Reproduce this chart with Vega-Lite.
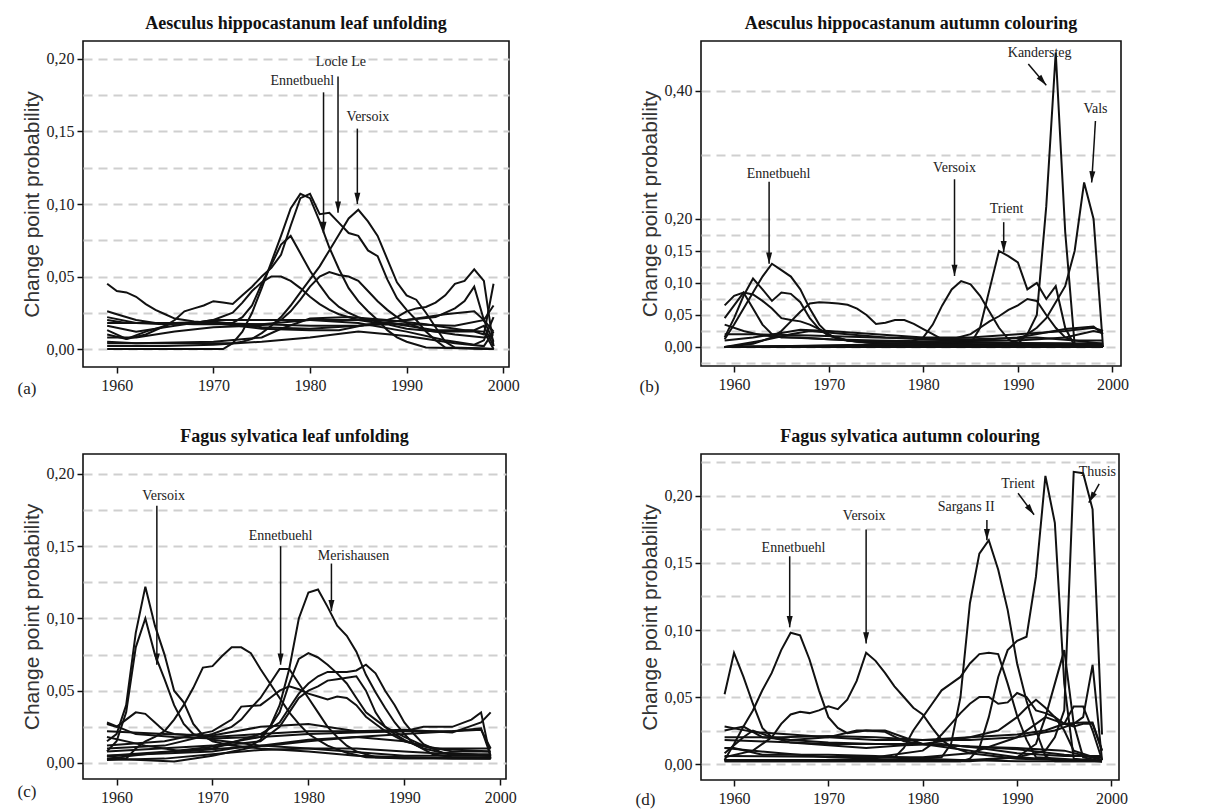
{
  "$schema": "https://vega.github.io/schema/vega-lite/v6.json",
  "background": "white",
  "padding": {"left": 16, "top": 14, "right": 5, "bottom": 5},
  "config": {
    "view": {"stroke": "#111", "strokeWidth": 1.6},
    "font": "Liberation Serif"
  },
  "datasets": {
    "la": [
      {"s":"a1","x":1959,"y":0.045},{"s":"a1","x":1960,"y":0.040},{"s":"a1","x":1961,"y":0.039},{"s":"a1","x":1962,"y":0.036},{"s":"a1","x":1963,"y":0.031},{"s":"a1","x":1964,"y":0.027},{"s":"a1","x":1965,"y":0.024},{"s":"a1","x":1966,"y":0.021},{"s":"a1","x":1968,"y":0.019},{"s":"a1","x":1970,"y":0.018},{"s":"a1","x":1975,"y":0.017},{"s":"a1","x":1980,"y":0.016},{"s":"a1","x":1985,"y":0.016},{"s":"a1","x":1988,"y":0.017},{"s":"a1","x":1990,"y":0.014},{"s":"a1","x":1993,"y":0.012},{"s":"a1","x":1997,"y":0.012},{"s":"a1","x":1998,"y":0.010},{"s":"a1","x":1999,"y":0.045},
      {"s":"a2","x":1959,"y":0},{"s":"a2","x":1971,"y":0},{"s":"a2","x":1972,"y":0.004},{"s":"a2","x":1973,"y":0.012},{"s":"a2","x":1974,"y":0.025},{"s":"a2","x":1975,"y":0.042},{"s":"a2","x":1976,"y":0.06},{"s":"a2","x":1977,"y":0.078},{"s":"a2","x":1978,"y":0.097},{"s":"a2","x":1979,"y":0.107},{"s":"a2","x":1980,"y":0.104},{"s":"a2","x":1981,"y":0.088},{"s":"a2","x":1982,"y":0.07},{"s":"a2","x":1983,"y":0.055},{"s":"a2","x":1984,"y":0.042},{"s":"a2","x":1985,"y":0.033},{"s":"a2","x":1986,"y":0.026},{"s":"a2","x":1987,"y":0.02},{"s":"a2","x":1988,"y":0.013},{"s":"a2","x":1989,"y":0.008},{"s":"a2","x":1990,"y":0.005},{"s":"a2","x":1992,"y":0.001},{"s":"a2","x":1999,"y":0},
      {"s":"a3","x":1959,"y":0.01},{"s":"a3","x":1961,"y":0.007},{"s":"a3","x":1963,"y":0.01},{"s":"a3","x":1965,"y":0.016},{"s":"a3","x":1966,"y":0.02},{"s":"a3","x":1967,"y":0.026},{"s":"a3","x":1968,"y":0.028},{"s":"a3","x":1969,"y":0.03},{"s":"a3","x":1970,"y":0.033},{"s":"a3","x":1971,"y":0.032},{"s":"a3","x":1972,"y":0.031},{"s":"a3","x":1973,"y":0.037},{"s":"a3","x":1974,"y":0.043},{"s":"a3","x":1975,"y":0.05},{"s":"a3","x":1976,"y":0.056},{"s":"a3","x":1977,"y":0.065},{"s":"a3","x":1978,"y":0.085},{"s":"a3","x":1979,"y":0.104},{"s":"a3","x":1980,"y":0.107},{"s":"a3","x":1981,"y":0.093},{"s":"a3","x":1982,"y":0.094},{"s":"a3","x":1983,"y":0.087},{"s":"a3","x":1984,"y":0.08},{"s":"a3","x":1985,"y":0.078},{"s":"a3","x":1986,"y":0.068},{"s":"a3","x":1987,"y":0.064},{"s":"a3","x":1988,"y":0.048},{"s":"a3","x":1989,"y":0.035},{"s":"a3","x":1990,"y":0.027},{"s":"a3","x":1991,"y":0.02},{"s":"a3","x":1992,"y":0.012},{"s":"a3","x":1993,"y":0.006},{"s":"a3","x":1994,"y":0.001},{"s":"a3","x":1999,"y":0},
      {"s":"a4","x":1959,"y":0.004},{"s":"a4","x":1972,"y":0.004},{"s":"a4","x":1973,"y":0.005},{"s":"a4","x":1974,"y":0.007},{"s":"a4","x":1975,"y":0.011},{"s":"a4","x":1976,"y":0.016},{"s":"a4","x":1977,"y":0.022},{"s":"a4","x":1978,"y":0.03},{"s":"a4","x":1979,"y":0.039},{"s":"a4","x":1980,"y":0.048},{"s":"a4","x":1981,"y":0.057},{"s":"a4","x":1982,"y":0.068},{"s":"a4","x":1983,"y":0.079},{"s":"a4","x":1984,"y":0.09},{"s":"a4","x":1985,"y":0.096},{"s":"a4","x":1986,"y":0.088},{"s":"a4","x":1987,"y":0.078},{"s":"a4","x":1988,"y":0.062},{"s":"a4","x":1989,"y":0.046},{"s":"a4","x":1990,"y":0.037},{"s":"a4","x":1991,"y":0.034},{"s":"a4","x":1992,"y":0.025},{"s":"a4","x":1993,"y":0.015},{"s":"a4","x":1994,"y":0.005},{"s":"a4","x":1995,"y":0.001},{"s":"a4","x":1999,"y":0},
      {"s":"a5","x":1959,"y":0.018},{"s":"a5","x":1972,"y":0.018},{"s":"a5","x":1973,"y":0.022},{"s":"a5","x":1974,"y":0.03},{"s":"a5","x":1975,"y":0.045},{"s":"a5","x":1976,"y":0.058},{"s":"a5","x":1977,"y":0.072},{"s":"a5","x":1978,"y":0.078},{"s":"a5","x":1979,"y":0.066},{"s":"a5","x":1980,"y":0.054},{"s":"a5","x":1981,"y":0.044},{"s":"a5","x":1982,"y":0.035},{"s":"a5","x":1983,"y":0.029},{"s":"a5","x":1984,"y":0.025},{"s":"a5","x":1985,"y":0.022},{"s":"a5","x":1986,"y":0.02},{"s":"a5","x":1988,"y":0.018},{"s":"a5","x":1990,"y":0.016},{"s":"a5","x":1993,"y":0.013},{"s":"a5","x":1997,"y":0.013},{"s":"a5","x":1998,"y":0.016},{"s":"a5","x":1999,"y":0.002},
      {"s":"a6","x":1959,"y":0.022},{"s":"a6","x":1962,"y":0.018},{"s":"a6","x":1965,"y":0.017},{"s":"a6","x":1968,"y":0.018},{"s":"a6","x":1970,"y":0.02},{"s":"a6","x":1972,"y":0.025},{"s":"a6","x":1973,"y":0.032},{"s":"a6","x":1974,"y":0.04},{"s":"a6","x":1975,"y":0.046},{"s":"a6","x":1976,"y":0.05},{"s":"a6","x":1977,"y":0.05},{"s":"a6","x":1978,"y":0.047},{"s":"a6","x":1979,"y":0.042},{"s":"a6","x":1980,"y":0.036},{"s":"a6","x":1981,"y":0.031},{"s":"a6","x":1982,"y":0.027},{"s":"a6","x":1983,"y":0.024},{"s":"a6","x":1985,"y":0.02},{"s":"a6","x":1987,"y":0.018},{"s":"a6","x":1990,"y":0.017},{"s":"a6","x":1995,"y":0.016},{"s":"a6","x":1998,"y":0.02},{"s":"a6","x":1999,"y":0.012},
      {"s":"a7","x":1959,"y":0.008},{"s":"a7","x":1962,"y":0.008},{"s":"a7","x":1966,"y":0.012},{"s":"a7","x":1970,"y":0.015},{"s":"a7","x":1974,"y":0.016},{"s":"a7","x":1976,"y":0.017},{"s":"a7","x":1977,"y":0.02},{"s":"a7","x":1978,"y":0.026},{"s":"a7","x":1979,"y":0.034},{"s":"a7","x":1980,"y":0.043},{"s":"a7","x":1981,"y":0.05},{"s":"a7","x":1982,"y":0.053},{"s":"a7","x":1983,"y":0.051},{"s":"a7","x":1984,"y":0.05},{"s":"a7","x":1985,"y":0.047},{"s":"a7","x":1986,"y":0.04},{"s":"a7","x":1987,"y":0.033},{"s":"a7","x":1988,"y":0.027},{"s":"a7","x":1989,"y":0.022},{"s":"a7","x":1990,"y":0.018},{"s":"a7","x":1992,"y":0.013},{"s":"a7","x":1995,"y":0.01},{"s":"a7","x":1998,"y":0.008},{"s":"a7","x":1999,"y":0.01},
      {"s":"a8","x":1959,"y":0.026},{"s":"a8","x":1960,"y":0.024},{"s":"a8","x":1962,"y":0.02},{"s":"a8","x":1964,"y":0.018},{"s":"a8","x":1968,"y":0.017},{"s":"a8","x":1975,"y":0.017},{"s":"a8","x":1980,"y":0.02},{"s":"a8","x":1985,"y":0.02},{"s":"a8","x":1988,"y":0.02},{"s":"a8","x":1989,"y":0.022},{"s":"a8","x":1990,"y":0.026},{"s":"a8","x":1991,"y":0.028},{"s":"a8","x":1992,"y":0.029},{"s":"a8","x":1993,"y":0.032},{"s":"a8","x":1994,"y":0.037},{"s":"a8","x":1995,"y":0.045},{"s":"a8","x":1996,"y":0.047},{"s":"a8","x":1997,"y":0.055},{"s":"a8","x":1998,"y":0.047},{"s":"a8","x":1999,"y":0.002},
      {"s":"a9","x":1959,"y":0.013},{"s":"a9","x":1961,"y":0.007},{"s":"a9","x":1963,"y":0.012},{"s":"a9","x":1966,"y":0.018},{"s":"a9","x":1970,"y":0.019},{"s":"a9","x":1975,"y":0.015},{"s":"a9","x":1980,"y":0.014},{"s":"a9","x":1985,"y":0.016},{"s":"a9","x":1990,"y":0.02},{"s":"a9","x":1993,"y":0.022},{"s":"a9","x":1995,"y":0.028},{"s":"a9","x":1996,"y":0.033},{"s":"a9","x":1997,"y":0.043},{"s":"a9","x":1998,"y":0.02},{"s":"a9","x":1999,"y":0.03},
      {"s":"a10","x":1959,"y":0.02},{"s":"a10","x":1961,"y":0.018},{"s":"a10","x":1970,"y":0.018},{"s":"a10","x":1975,"y":0.014},{"s":"a10","x":1980,"y":0.013},{"s":"a10","x":1983,"y":0.013},{"s":"a10","x":1986,"y":0.017},{"s":"a10","x":1990,"y":0.02},{"s":"a10","x":1994,"y":0.024},{"s":"a10","x":1997,"y":0.026},{"s":"a10","x":1998,"y":0.02},{"s":"a10","x":1999,"y":0.005},
      {"s":"a11","x":1959,"y":0.005},{"s":"a11","x":1962,"y":0.004},{"s":"a11","x":1970,"y":0.005},{"s":"a11","x":1975,"y":0.008},{"s":"a11","x":1977,"y":0.014},{"s":"a11","x":1980,"y":0.021},{"s":"a11","x":1984,"y":0.022},{"s":"a11","x":1988,"y":0.02},{"s":"a11","x":1992,"y":0.017},{"s":"a11","x":1996,"y":0.013},{"s":"a11","x":1998,"y":0.012},{"s":"a11","x":1999,"y":0},
      {"s":"a12","x":1959,"y":0.016},{"s":"a12","x":1962,"y":0.012},{"s":"a12","x":1966,"y":0.016},{"s":"a12","x":1970,"y":0.02},{"s":"a12","x":1975,"y":0.02},{"s":"a12","x":1980,"y":0.02},{"s":"a12","x":1985,"y":0.018},{"s":"a12","x":1990,"y":0.012},{"s":"a12","x":1994,"y":0.006},{"s":"a12","x":1997,"y":0.003},{"s":"a12","x":1998,"y":0.006},{"s":"a12","x":1999,"y":0.022},
      {"s":"a13","x":1959,"y":0.002},{"s":"a13","x":1965,"y":0.002},{"s":"a13","x":1970,"y":0.003},{"s":"a13","x":1975,"y":0.005},{"s":"a13","x":1980,"y":0.008},{"s":"a13","x":1985,"y":0.012},{"s":"a13","x":1990,"y":0.009},{"s":"a13","x":1995,"y":0.004},{"s":"a13","x":1998,"y":0.002},{"s":"a13","x":1999,"y":0.012}
    ],
    "lb": [
      {"s":"b1","x":1959,"y":0.012},{"s":"b1","x":1960,"y":0.035},{"s":"b1","x":1961,"y":0.06},{"s":"b1","x":1962,"y":0.085},{"s":"b1","x":1963,"y":0.11},{"s":"b1","x":1964,"y":0.13},{"s":"b1","x":1965,"y":0.12},{"s":"b1","x":1966,"y":0.11},{"s":"b1","x":1967,"y":0.09},{"s":"b1","x":1968,"y":0.06},{"s":"b1","x":1969,"y":0.035},{"s":"b1","x":1970,"y":0.02},{"s":"b1","x":1971,"y":0.012},{"s":"b1","x":1973,"y":0.008},{"s":"b1","x":1976,"y":0.006},{"s":"b1","x":1980,"y":0.005},{"s":"b1","x":1985,"y":0.004},{"s":"b1","x":1990,"y":0.003},{"s":"b1","x":1995,"y":0.002},{"s":"b1","x":1999,"y":0.002},
      {"s":"b2","x":1959,"y":0.015},{"s":"b2","x":1960,"y":0.045},{"s":"b2","x":1961,"y":0.08},{"s":"b2","x":1962,"y":0.107},{"s":"b2","x":1963,"y":0.09},{"s":"b2","x":1964,"y":0.072},{"s":"b2","x":1965,"y":0.085},{"s":"b2","x":1966,"y":0.083},{"s":"b2","x":1967,"y":0.07},{"s":"b2","x":1968,"y":0.045},{"s":"b2","x":1969,"y":0.028},{"s":"b2","x":1970,"y":0.018},{"s":"b2","x":1972,"y":0.01},{"s":"b2","x":1975,"y":0.006},{"s":"b2","x":1980,"y":0.004},{"s":"b2","x":1990,"y":0.003},{"s":"b2","x":1999,"y":0.002},
      {"s":"b3","x":1959,"y":0.065},{"s":"b3","x":1960,"y":0.08},{"s":"b3","x":1961,"y":0.085},{"s":"b3","x":1962,"y":0.082},{"s":"b3","x":1963,"y":0.072},{"s":"b3","x":1964,"y":0.06},{"s":"b3","x":1965,"y":0.045},{"s":"b3","x":1966,"y":0.042},{"s":"b3","x":1967,"y":0.04},{"s":"b3","x":1968,"y":0.035},{"s":"b3","x":1969,"y":0.028},{"s":"b3","x":1970,"y":0.018},{"s":"b3","x":1972,"y":0.01},{"s":"b3","x":1975,"y":0.006},{"s":"b3","x":1980,"y":0.005},{"s":"b3","x":1990,"y":0.004},{"s":"b3","x":1999,"y":0.005},
      {"s":"b4","x":1959,"y":0.045},{"s":"b4","x":1960,"y":0.065},{"s":"b4","x":1961,"y":0.085},{"s":"b4","x":1962,"y":0.06},{"s":"b4","x":1963,"y":0.035},{"s":"b4","x":1964,"y":0.02},{"s":"b4","x":1965,"y":0.015},{"s":"b4","x":1967,"y":0.015},{"s":"b4","x":1970,"y":0.012},{"s":"b4","x":1975,"y":0.008},{"s":"b4","x":1999,"y":0.005},
      {"s":"b5","x":1959,"y":0},{"s":"b5","x":1962,"y":0.005},{"s":"b5","x":1964,"y":0.015},{"s":"b5","x":1965,"y":0.025},{"s":"b5","x":1966,"y":0.04},{"s":"b5","x":1967,"y":0.055},{"s":"b5","x":1968,"y":0.068},{"s":"b5","x":1969,"y":0.07},{"s":"b5","x":1970,"y":0.069},{"s":"b5","x":1971,"y":0.068},{"s":"b5","x":1972,"y":0.066},{"s":"b5","x":1973,"y":0.06},{"s":"b5","x":1974,"y":0.05},{"s":"b5","x":1975,"y":0.036},{"s":"b5","x":1976,"y":0.038},{"s":"b5","x":1977,"y":0.042},{"s":"b5","x":1978,"y":0.042},{"s":"b5","x":1979,"y":0.036},{"s":"b5","x":1980,"y":0.028},{"s":"b5","x":1981,"y":0.02},{"s":"b5","x":1982,"y":0.012},{"s":"b5","x":1984,"y":0.008},{"s":"b5","x":1990,"y":0.006},{"s":"b5","x":1999,"y":0.005},
      {"s":"b6","x":1959,"y":0},{"s":"b6","x":1970,"y":0.002},{"s":"b6","x":1978,"y":0.005},{"s":"b6","x":1980,"y":0.015},{"s":"b6","x":1981,"y":0.035},{"s":"b6","x":1982,"y":0.065},{"s":"b6","x":1983,"y":0.09},{"s":"b6","x":1984,"y":0.103},{"s":"b6","x":1985,"y":0.098},{"s":"b6","x":1986,"y":0.08},{"s":"b6","x":1987,"y":0.055},{"s":"b6","x":1988,"y":0.03},{"s":"b6","x":1989,"y":0.012},{"s":"b6","x":1990,"y":0.004},{"s":"b6","x":1992,"y":0.002},{"s":"b6","x":1999,"y":0.002},
      {"s":"b7","x":1959,"y":0},{"s":"b7","x":1980,"y":0.002},{"s":"b7","x":1985,"y":0.005},{"s":"b7","x":1986,"y":0.03},{"s":"b7","x":1987,"y":0.09},{"s":"b7","x":1988,"y":0.15},{"s":"b7","x":1989,"y":0.142},{"s":"b7","x":1990,"y":0.132},{"s":"b7","x":1991,"y":0.09},{"s":"b7","x":1992,"y":0.1},{"s":"b7","x":1993,"y":0.075},{"s":"b7","x":1994,"y":0.095},{"s":"b7","x":1995,"y":0.03},{"s":"b7","x":1996,"y":0.002},{"s":"b7","x":1999,"y":0.002},
      {"s":"b8","x":1959,"y":0},{"s":"b8","x":1985,"y":0.002},{"s":"b8","x":1990,"y":0.005},{"s":"b8","x":1991,"y":0.02},{"s":"b8","x":1992,"y":0.05},{"s":"b8","x":1993,"y":0.22},{"s":"b8","x":1994,"y":0.46},{"s":"b8","x":1995,"y":0.18},{"s":"b8","x":1996,"y":0.003},{"s":"b8","x":1999,"y":0.003},
      {"s":"b9","x":1959,"y":0},{"s":"b9","x":1988,"y":0.002},{"s":"b9","x":1990,"y":0.01},{"s":"b9","x":1992,"y":0.03},{"s":"b9","x":1993,"y":0.045},{"s":"b9","x":1994,"y":0.07},{"s":"b9","x":1995,"y":0.095},{"s":"b9","x":1996,"y":0.15},{"s":"b9","x":1997,"y":0.257},{"s":"b9","x":1998,"y":0.2},{"s":"b9","x":1999,"y":0},
      {"s":"b10","x":1959,"y":0},{"s":"b10","x":1980,"y":0.005},{"s":"b10","x":1983,"y":0.012},{"s":"b10","x":1985,"y":0.02},{"s":"b10","x":1986,"y":0.03},{"s":"b10","x":1987,"y":0.04},{"s":"b10","x":1988,"y":0.048},{"s":"b10","x":1989,"y":0.058},{"s":"b10","x":1990,"y":0.065},{"s":"b10","x":1991,"y":0.075},{"s":"b10","x":1992,"y":0.072},{"s":"b10","x":1993,"y":0.05},{"s":"b10","x":1994,"y":0.03},{"s":"b10","x":1995,"y":0.015},{"s":"b10","x":1996,"y":0.01},{"s":"b10","x":1999,"y":0.005},
      {"s":"b11","x":1959,"y":0.035},{"s":"b11","x":1961,"y":0.025},{"s":"b11","x":1963,"y":0.018},{"s":"b11","x":1966,"y":0.015},{"s":"b11","x":1970,"y":0.012},{"s":"b11","x":1975,"y":0.01},{"s":"b11","x":1980,"y":0.009},{"s":"b11","x":1990,"y":0.01},{"s":"b11","x":1995,"y":0.015},{"s":"b11","x":1998,"y":0.025},{"s":"b11","x":1999,"y":0.022},
      {"s":"b12","x":1959,"y":0.01},{"s":"b12","x":1962,"y":0.015},{"s":"b12","x":1965,"y":0.022},{"s":"b12","x":1967,"y":0.027},{"s":"b12","x":1970,"y":0.025},{"s":"b12","x":1975,"y":0.02},{"s":"b12","x":1980,"y":0.015},{"s":"b12","x":1985,"y":0.015},{"s":"b12","x":1990,"y":0.02},{"s":"b12","x":1995,"y":0.025},{"s":"b12","x":1998,"y":0.03},{"s":"b12","x":1999,"y":0.025},
      {"s":"b13","x":1959,"y":0},{"s":"b13","x":1963,"y":0.01},{"s":"b13","x":1966,"y":0.02},{"s":"b13","x":1968,"y":0.025},{"s":"b13","x":1972,"y":0.02},{"s":"b13","x":1976,"y":0.015},{"s":"b13","x":1980,"y":0.012},{"s":"b13","x":1985,"y":0.01},{"s":"b13","x":1990,"y":0.015},{"s":"b13","x":1995,"y":0.028},{"s":"b13","x":1998,"y":0.032},{"s":"b13","x":1999,"y":0.02},
      {"s":"b14","x":1959,"y":0.02},{"s":"b14","x":1962,"y":0.02},{"s":"b14","x":1968,"y":0.018},{"s":"b14","x":1975,"y":0.015},{"s":"b14","x":1985,"y":0.012},{"s":"b14","x":1992,"y":0.015},{"s":"b14","x":1996,"y":0.01},{"s":"b14","x":1999,"y":0.01},
      {"s":"b15","x":1959,"y":0},{"s":"b15","x":1979,"y":0},{"s":"b15","x":1999,"y":0}
    ],
    "lc": [
      {"s":"c1","x":1959,"y":0.015},{"s":"c1","x":1960,"y":0.02},{"s":"c1","x":1961,"y":0.04},{"s":"c1","x":1962,"y":0.09},{"s":"c1","x":1963,"y":0.122},{"s":"c1","x":1964,"y":0.095},{"s":"c1","x":1965,"y":0.075},{"s":"c1","x":1966,"y":0.05},{"s":"c1","x":1967,"y":0.042},{"s":"c1","x":1968,"y":0.027},{"s":"c1","x":1969,"y":0.019},{"s":"c1","x":1970,"y":0.015},{"s":"c1","x":1972,"y":0.012},{"s":"c1","x":1975,"y":0.01},{"s":"c1","x":1980,"y":0.008},{"s":"c1","x":1985,"y":0.005},{"s":"c1","x":1990,"y":0.004},{"s":"c1","x":1995,"y":0.003},{"s":"c1","x":1999,"y":0.003},
      {"s":"c2","x":1959,"y":0.008},{"s":"c2","x":1960,"y":0.015},{"s":"c2","x":1961,"y":0.035},{"s":"c2","x":1962,"y":0.08},{"s":"c2","x":1963,"y":0.1},{"s":"c2","x":1964,"y":0.075},{"s":"c2","x":1965,"y":0.058},{"s":"c2","x":1966,"y":0.04},{"s":"c2","x":1967,"y":0.027},{"s":"c2","x":1968,"y":0.02},{"s":"c2","x":1970,"y":0.016},{"s":"c2","x":1975,"y":0.012},{"s":"c2","x":1980,"y":0.01},{"s":"c2","x":1990,"y":0.005},{"s":"c2","x":1999,"y":0.005},
      {"s":"c3","x":1959,"y":0.027},{"s":"c3","x":1960,"y":0.025},{"s":"c3","x":1961,"y":0.03},{"s":"c3","x":1962,"y":0.035},{"s":"c3","x":1963,"y":0.034},{"s":"c3","x":1964,"y":0.028},{"s":"c3","x":1965,"y":0.022},{"s":"c3","x":1966,"y":0.02},{"s":"c3","x":1968,"y":0.019},{"s":"c3","x":1970,"y":0.018},{"s":"c3","x":1975,"y":0.02},{"s":"c3","x":1980,"y":0.022},{"s":"c3","x":1985,"y":0.022},{"s":"c3","x":1990,"y":0.022},{"s":"c3","x":1995,"y":0.022},{"s":"c3","x":1998,"y":0.023},{"s":"c3","x":1999,"y":0.01},
      {"s":"c4","x":1959,"y":0.005},{"s":"c4","x":1961,"y":0.003},{"s":"c4","x":1962,"y":0.01},{"s":"c4","x":1963,"y":0.015},{"s":"c4","x":1964,"y":0.018},{"s":"c4","x":1965,"y":0.022},{"s":"c4","x":1966,"y":0.03},{"s":"c4","x":1967,"y":0.04},{"s":"c4","x":1968,"y":0.052},{"s":"c4","x":1969,"y":0.066},{"s":"c4","x":1970,"y":0.067},{"s":"c4","x":1971,"y":0.074},{"s":"c4","x":1972,"y":0.08},{"s":"c4","x":1973,"y":0.08},{"s":"c4","x":1974,"y":0.076},{"s":"c4","x":1975,"y":0.065},{"s":"c4","x":1976,"y":0.055},{"s":"c4","x":1977,"y":0.045},{"s":"c4","x":1978,"y":0.035},{"s":"c4","x":1979,"y":0.027},{"s":"c4","x":1980,"y":0.02},{"s":"c4","x":1981,"y":0.016},{"s":"c4","x":1982,"y":0.012},{"s":"c4","x":1984,"y":0.007},{"s":"c4","x":1986,"y":0.004},{"s":"c4","x":1990,"y":0.003},{"s":"c4","x":1999,"y":0.003},
      {"s":"c5","x":1959,"y":0.005},{"s":"c5","x":1970,"y":0.008},{"s":"c5","x":1974,"y":0.012},{"s":"c5","x":1975,"y":0.016},{"s":"c5","x":1976,"y":0.025},{"s":"c5","x":1977,"y":0.04},{"s":"c5","x":1978,"y":0.065},{"s":"c5","x":1979,"y":0.1},{"s":"c5","x":1980,"y":0.118},{"s":"c5","x":1981,"y":0.12},{"s":"c5","x":1982,"y":0.108},{"s":"c5","x":1983,"y":0.095},{"s":"c5","x":1984,"y":0.088},{"s":"c5","x":1985,"y":0.077},{"s":"c5","x":1986,"y":0.061},{"s":"c5","x":1987,"y":0.049},{"s":"c5","x":1988,"y":0.038},{"s":"c5","x":1989,"y":0.028},{"s":"c5","x":1990,"y":0.02},{"s":"c5","x":1991,"y":0.013},{"s":"c5","x":1993,"y":0.006},{"s":"c5","x":1995,"y":0.004},{"s":"c5","x":1999,"y":0.004},
      {"s":"c6","x":1959,"y":0.01},{"s":"c6","x":1965,"y":0.012},{"s":"c6","x":1970,"y":0.02},{"s":"c6","x":1972,"y":0.025},{"s":"c6","x":1973,"y":0.03},{"s":"c6","x":1974,"y":0.038},{"s":"c6","x":1975,"y":0.045},{"s":"c6","x":1976,"y":0.055},{"s":"c6","x":1977,"y":0.065},{"s":"c6","x":1978,"y":0.065},{"s":"c6","x":1979,"y":0.055},{"s":"c6","x":1980,"y":0.045},{"s":"c6","x":1981,"y":0.035},{"s":"c6","x":1982,"y":0.025},{"s":"c6","x":1983,"y":0.018},{"s":"c6","x":1984,"y":0.012},{"s":"c6","x":1985,"y":0.008},{"s":"c6","x":1987,"y":0.004},{"s":"c6","x":1999,"y":0.003},
      {"s":"c7","x":1959,"y":0.008},{"s":"c7","x":1970,"y":0.012},{"s":"c7","x":1975,"y":0.018},{"s":"c7","x":1976,"y":0.025},{"s":"c7","x":1977,"y":0.035},{"s":"c7","x":1978,"y":0.055},{"s":"c7","x":1979,"y":0.072},{"s":"c7","x":1980,"y":0.076},{"s":"c7","x":1981,"y":0.073},{"s":"c7","x":1982,"y":0.068},{"s":"c7","x":1983,"y":0.062},{"s":"c7","x":1984,"y":0.055},{"s":"c7","x":1985,"y":0.045},{"s":"c7","x":1986,"y":0.035},{"s":"c7","x":1987,"y":0.03},{"s":"c7","x":1988,"y":0.025},{"s":"c7","x":1989,"y":0.02},{"s":"c7","x":1990,"y":0.016},{"s":"c7","x":1992,"y":0.01},{"s":"c7","x":1994,"y":0.007},{"s":"c7","x":1999,"y":0.005},
      {"s":"c8","x":1959,"y":0.005},{"s":"c8","x":1970,"y":0.01},{"s":"c8","x":1975,"y":0.02},{"s":"c8","x":1977,"y":0.028},{"s":"c8","x":1978,"y":0.038},{"s":"c8","x":1979,"y":0.048},{"s":"c8","x":1980,"y":0.055},{"s":"c8","x":1981,"y":0.06},{"s":"c8","x":1982,"y":0.063},{"s":"c8","x":1983,"y":0.063},{"s":"c8","x":1984,"y":0.063},{"s":"c8","x":1985,"y":0.064},{"s":"c8","x":1986,"y":0.068},{"s":"c8","x":1987,"y":0.062},{"s":"c8","x":1988,"y":0.05},{"s":"c8","x":1989,"y":0.04},{"s":"c8","x":1990,"y":0.028},{"s":"c8","x":1991,"y":0.02},{"s":"c8","x":1992,"y":0.013},{"s":"c8","x":1994,"y":0.007},{"s":"c8","x":1999,"y":0.005},
      {"s":"c9","x":1959,"y":0.003},{"s":"c9","x":1975,"y":0.015},{"s":"c9","x":1977,"y":0.025},{"s":"c9","x":1978,"y":0.035},{"s":"c9","x":1979,"y":0.045},{"s":"c9","x":1980,"y":0.05},{"s":"c9","x":1981,"y":0.053},{"s":"c9","x":1982,"y":0.057},{"s":"c9","x":1983,"y":0.058},{"s":"c9","x":1984,"y":0.059},{"s":"c9","x":1985,"y":0.06},{"s":"c9","x":1986,"y":0.05},{"s":"c9","x":1987,"y":0.035},{"s":"c9","x":1988,"y":0.025},{"s":"c9","x":1990,"y":0.018},{"s":"c9","x":1992,"y":0.012},{"s":"c9","x":1995,"y":0.008},{"s":"c9","x":1999,"y":0.008},
      {"s":"c10","x":1959,"y":0.012},{"s":"c10","x":1965,"y":0.015},{"s":"c10","x":1970,"y":0.022},{"s":"c10","x":1972,"y":0.03},{"s":"c10","x":1973,"y":0.039},{"s":"c10","x":1975,"y":0.04},{"s":"c10","x":1976,"y":0.045},{"s":"c10","x":1977,"y":0.05},{"s":"c10","x":1978,"y":0.053},{"s":"c10","x":1979,"y":0.051},{"s":"c10","x":1980,"y":0.048},{"s":"c10","x":1981,"y":0.046},{"s":"c10","x":1982,"y":0.044},{"s":"c10","x":1983,"y":0.046},{"s":"c10","x":1984,"y":0.045},{"s":"c10","x":1985,"y":0.04},{"s":"c10","x":1986,"y":0.032},{"s":"c10","x":1987,"y":0.027},{"s":"c10","x":1988,"y":0.022},{"s":"c10","x":1990,"y":0.015},{"s":"c10","x":1993,"y":0.01},{"s":"c10","x":1999,"y":0.008},
      {"s":"c11","x":1959,"y":0.028},{"s":"c11","x":1962,"y":0.02},{"s":"c11","x":1966,"y":0.018},{"s":"c11","x":1970,"y":0.017},{"s":"c11","x":1975,"y":0.018},{"s":"c11","x":1980,"y":0.02},{"s":"c11","x":1985,"y":0.021},{"s":"c11","x":1990,"y":0.022},{"s":"c11","x":1992,"y":0.025},{"s":"c11","x":1995,"y":0.025},{"s":"c11","x":1997,"y":0.03},{"s":"c11","x":1998,"y":0.035},{"s":"c11","x":1999,"y":0.003},
      {"s":"c12","x":1959,"y":0.022},{"s":"c12","x":1965,"y":0.02},{"s":"c12","x":1970,"y":0.019},{"s":"c12","x":1975,"y":0.025},{"s":"c12","x":1980,"y":0.027},{"s":"c12","x":1985,"y":0.022},{"s":"c12","x":1990,"y":0.023},{"s":"c12","x":1995,"y":0.021},{"s":"c12","x":1998,"y":0.028},{"s":"c12","x":1999,"y":0.035},
      {"s":"c13","x":1959,"y":0.002},{"s":"c13","x":1965,"y":0.003},{"s":"c13","x":1970,"y":0.006},{"s":"c13","x":1975,"y":0.009},{"s":"c13","x":1980,"y":0.01},{"s":"c13","x":1985,"y":0.01},{"s":"c13","x":1990,"y":0.008},{"s":"c13","x":1995,"y":0.006},{"s":"c13","x":1999,"y":0.006},
      {"s":"c14","x":1959,"y":0.003},{"s":"c14","x":1966,"y":0.001},{"s":"c14","x":1970,"y":0.005},{"s":"c14","x":1975,"y":0.012},{"s":"c14","x":1980,"y":0.016},{"s":"c14","x":1985,"y":0.018},{"s":"c14","x":1990,"y":0.015},{"s":"c14","x":1993,"y":0.01},{"s":"c14","x":1999,"y":0.01},
      {"s":"c15","x":1959,"y":0.018},{"s":"c15","x":1963,"y":0.012},{"s":"c15","x":1967,"y":0.008},{"s":"c15","x":1971,"y":0.01},{"s":"c15","x":1976,"y":0.012},{"s":"c15","x":1980,"y":0.015},{"s":"c15","x":1985,"y":0.018},{"s":"c15","x":1990,"y":0.02},{"s":"c15","x":1995,"y":0.022},{"s":"c15","x":1998,"y":0.024},{"s":"c15","x":1999,"y":0.005}
    ],
    "ld": [
      {"s":"d1","x":1959,"y":0.052},{"s":"d1","x":1960,"y":0.083},{"s":"d1","x":1961,"y":0.065},{"s":"d1","x":1962,"y":0.045},{"s":"d1","x":1963,"y":0.027},{"s":"d1","x":1964,"y":0.02},{"s":"d1","x":1966,"y":0.018},{"s":"d1","x":1970,"y":0.016},{"s":"d1","x":1975,"y":0.015},{"s":"d1","x":1980,"y":0.015},{"s":"d1","x":1985,"y":0.013},{"s":"d1","x":1990,"y":0.011},{"s":"d1","x":1995,"y":0.007},{"s":"d1","x":1999,"y":0.005},
      {"s":"d2","x":1959,"y":0.003},{"s":"d2","x":1960,"y":0.015},{"s":"d2","x":1961,"y":0.028},{"s":"d2","x":1962,"y":0.04},{"s":"d2","x":1963,"y":0.055},{"s":"d2","x":1964,"y":0.068},{"s":"d2","x":1965,"y":0.085},{"s":"d2","x":1966,"y":0.098},{"s":"d2","x":1967,"y":0.096},{"s":"d2","x":1968,"y":0.078},{"s":"d2","x":1969,"y":0.055},{"s":"d2","x":1970,"y":0.035},{"s":"d2","x":1971,"y":0.027},{"s":"d2","x":1972,"y":0.023},{"s":"d2","x":1974,"y":0.025},{"s":"d2","x":1976,"y":0.024},{"s":"d2","x":1978,"y":0.017},{"s":"d2","x":1980,"y":0.015},{"s":"d2","x":1985,"y":0.01},{"s":"d2","x":1990,"y":0.005},{"s":"d2","x":1995,"y":0.003},{"s":"d2","x":1999,"y":0.002},
      {"s":"d3","x":1959,"y":0.005},{"s":"d3","x":1962,"y":0.01},{"s":"d3","x":1964,"y":0.02},{"s":"d3","x":1965,"y":0.03},{"s":"d3","x":1966,"y":0.037},{"s":"d3","x":1967,"y":0.039},{"s":"d3","x":1968,"y":0.038},{"s":"d3","x":1969,"y":0.04},{"s":"d3","x":1970,"y":0.043},{"s":"d3","x":1971,"y":0.041},{"s":"d3","x":1972,"y":0.048},{"s":"d3","x":1973,"y":0.062},{"s":"d3","x":1974,"y":0.083},{"s":"d3","x":1975,"y":0.077},{"s":"d3","x":1976,"y":0.068},{"s":"d3","x":1977,"y":0.058},{"s":"d3","x":1978,"y":0.05},{"s":"d3","x":1979,"y":0.042},{"s":"d3","x":1980,"y":0.037},{"s":"d3","x":1981,"y":0.027},{"s":"d3","x":1982,"y":0.018},{"s":"d3","x":1983,"y":0.013},{"s":"d3","x":1985,"y":0.008},{"s":"d3","x":1990,"y":0.004},{"s":"d3","x":1995,"y":0.003},{"s":"d3","x":1999,"y":0.002},
      {"s":"d4","x":1959,"y":0.003},{"s":"d4","x":1975,"y":0.003},{"s":"d4","x":1982,"y":0.005},{"s":"d4","x":1983,"y":0.015},{"s":"d4","x":1984,"y":0.05},{"s":"d4","x":1985,"y":0.12},{"s":"d4","x":1986,"y":0.157},{"s":"d4","x":1987,"y":0.167},{"s":"d4","x":1988,"y":0.145},{"s":"d4","x":1989,"y":0.115},{"s":"d4","x":1990,"y":0.075},{"s":"d4","x":1991,"y":0.047},{"s":"d4","x":1992,"y":0.025},{"s":"d4","x":1993,"y":0.006},{"s":"d4","x":1994,"y":0.002},{"s":"d4","x":1999,"y":0.002},
      {"s":"d5","x":1959,"y":0.002},{"s":"d5","x":1984,"y":0.002},{"s":"d5","x":1985,"y":0.004},{"s":"d5","x":1986,"y":0.012},{"s":"d5","x":1987,"y":0.035},{"s":"d5","x":1988,"y":0.065},{"s":"d5","x":1989,"y":0.085},{"s":"d5","x":1990,"y":0.092},{"s":"d5","x":1991,"y":0.095},{"s":"d5","x":1992,"y":0.14},{"s":"d5","x":1993,"y":0.215},{"s":"d5","x":1994,"y":0.18},{"s":"d5","x":1995,"y":0.06},{"s":"d5","x":1996,"y":0.004},{"s":"d5","x":1999,"y":0.002},
      {"s":"d6","x":1959,"y":0.003},{"s":"d6","x":1985,"y":0.003},{"s":"d6","x":1990,"y":0.005},{"s":"d6","x":1993,"y":0.01},{"s":"d6","x":1994,"y":0.02},{"s":"d6","x":1995,"y":0.04},{"s":"d6","x":1996,"y":0.218},{"s":"d6","x":1997,"y":0.217},{"s":"d6","x":1998,"y":0.19},{"s":"d6","x":1999,"y":0.022},
      {"s":"d8","x":1959,"y":0.003},{"s":"d8","x":1970,"y":0.003},{"s":"d8","x":1977,"y":0.005},{"s":"d8","x":1978,"y":0.012},{"s":"d8","x":1979,"y":0.025},{"s":"d8","x":1980,"y":0.035},{"s":"d8","x":1981,"y":0.045},{"s":"d8","x":1982,"y":0.055},{"s":"d8","x":1983,"y":0.06},{"s":"d8","x":1984,"y":0.065},{"s":"d8","x":1985,"y":0.075},{"s":"d8","x":1986,"y":0.082},{"s":"d8","x":1987,"y":0.083},{"s":"d8","x":1988,"y":0.082},{"s":"d8","x":1989,"y":0.06},{"s":"d8","x":1990,"y":0.036},{"s":"d8","x":1991,"y":0.018},{"s":"d8","x":1992,"y":0.005},{"s":"d8","x":1999,"y":0.002},
      {"s":"d9","x":1959,"y":0.006},{"s":"d9","x":1975,"y":0.005},{"s":"d9","x":1980,"y":0.01},{"s":"d9","x":1981,"y":0.015},{"s":"d9","x":1982,"y":0.022},{"s":"d9","x":1983,"y":0.03},{"s":"d9","x":1984,"y":0.038},{"s":"d9","x":1985,"y":0.045},{"s":"d9","x":1986,"y":0.05},{"s":"d9","x":1987,"y":0.05},{"s":"d9","x":1988,"y":0.045},{"s":"d9","x":1989,"y":0.046},{"s":"d9","x":1990,"y":0.053},{"s":"d9","x":1991,"y":0.05},{"s":"d9","x":1992,"y":0.04},{"s":"d9","x":1993,"y":0.038},{"s":"d9","x":1994,"y":0.035},{"s":"d9","x":1995,"y":0.025},{"s":"d9","x":1996,"y":0.01},{"s":"d9","x":1999,"y":0.003},
      {"s":"d10","x":1959,"y":0.002},{"s":"d10","x":1985,"y":0.002},{"s":"d10","x":1990,"y":0.005},{"s":"d10","x":1992,"y":0.015},{"s":"d10","x":1993,"y":0.035},{"s":"d10","x":1994,"y":0.06},{"s":"d10","x":1995,"y":0.085},{"s":"d10","x":1996,"y":0.03},{"s":"d10","x":1997,"y":0.005},{"s":"d10","x":1999,"y":0.002},
      {"s":"d11","x":1959,"y":0.02},{"s":"d11","x":1965,"y":0.02},{"s":"d11","x":1970,"y":0.021},{"s":"d11","x":1975,"y":0.02},{"s":"d11","x":1980,"y":0.018},{"s":"d11","x":1985,"y":0.018},{"s":"d11","x":1990,"y":0.02},{"s":"d11","x":1994,"y":0.025},{"s":"d11","x":1996,"y":0.03},{"s":"d11","x":1997,"y":0.035},{"s":"d11","x":1998,"y":0.074},{"s":"d11","x":1999,"y":0.003},
      {"s":"d12","x":1959,"y":0.018},{"s":"d12","x":1970,"y":0.015},{"s":"d12","x":1980,"y":0.015},{"s":"d12","x":1985,"y":0.02},{"s":"d12","x":1988,"y":0.025},{"s":"d12","x":1990,"y":0.035},{"s":"d12","x":1991,"y":0.042},{"s":"d12","x":1992,"y":0.048},{"s":"d12","x":1993,"y":0.042},{"s":"d12","x":1994,"y":0.035},{"s":"d12","x":1995,"y":0.03},{"s":"d12","x":1996,"y":0.028},{"s":"d12","x":1997,"y":0.03},{"s":"d12","x":1998,"y":0.03},{"s":"d12","x":1999,"y":0.01},
      {"s":"d13","x":1959,"y":0.012},{"s":"d13","x":1965,"y":0.008},{"s":"d13","x":1970,"y":0.005},{"s":"d13","x":1980,"y":0.005},{"s":"d13","x":1985,"y":0.008},{"s":"d13","x":1990,"y":0.02},{"s":"d13","x":1993,"y":0.035},{"s":"d13","x":1995,"y":0.03},{"s":"d13","x":1996,"y":0.043},{"s":"d13","x":1997,"y":0.043},{"s":"d13","x":1998,"y":0.025},{"s":"d13","x":1999,"y":0.003},
      {"s":"d14","x":1959,"y":0.025},{"s":"d14","x":1961,"y":0.028},{"s":"d14","x":1963,"y":0.02},{"s":"d14","x":1966,"y":0.018},{"s":"d14","x":1970,"y":0.02},{"s":"d14","x":1973,"y":0.025},{"s":"d14","x":1976,"y":0.025},{"s":"d14","x":1978,"y":0.02},{"s":"d14","x":1980,"y":0.015},{"s":"d14","x":1985,"y":0.013},{"s":"d14","x":1990,"y":0.012},{"s":"d14","x":1995,"y":0.01},{"s":"d14","x":1999,"y":0.003},
      {"s":"d15","x":1959,"y":0.028},{"s":"d15","x":1962,"y":0.024},{"s":"d15","x":1966,"y":0.022},{"s":"d15","x":1970,"y":0.02},{"s":"d15","x":1975,"y":0.018},{"s":"d15","x":1980,"y":0.018},{"s":"d15","x":1985,"y":0.02},{"s":"d15","x":1990,"y":0.022},{"s":"d15","x":1993,"y":0.025},{"s":"d15","x":1995,"y":0.03},{"s":"d15","x":1997,"y":0.031},{"s":"d15","x":1998,"y":0.031},{"s":"d15","x":1999,"y":0.01},
      {"s":"d16","x":1959,"y":0.012},{"s":"d16","x":1960,"y":0.012},{"s":"d16","x":1963,"y":0.007},{"s":"d16","x":1970,"y":0.007},{"s":"d16","x":1975,"y":0.006},{"s":"d16","x":1980,"y":0.004},{"s":"d16","x":1984,"y":0.003},{"s":"d16","x":1990,"y":0.002},{"s":"d16","x":1999,"y":0.002},
      {"s":"d17","x":1959,"y":0.008},{"s":"d17","x":1961,"y":0.02},{"s":"d17","x":1962,"y":0.025},{"s":"d17","x":1964,"y":0.02},{"s":"d17","x":1966,"y":0.016},{"s":"d17","x":1970,"y":0.014},{"s":"d17","x":1974,"y":0.012},{"s":"d17","x":1978,"y":0.014},{"s":"d17","x":1982,"y":0.015},{"s":"d17","x":1986,"y":0.012},{"s":"d17","x":1990,"y":0.008},{"s":"d17","x":1995,"y":0.006},{"s":"d17","x":1999,"y":0.006}
    ],
    "na": [
      {"label":"Locle Le","lx":1983.2,"ly":0.198,"x1":1982.9,"y1":0.188,"x2":1982.9,"y2":0.094},
      {"label":"Ennetbuehl","lx":1979.2,"ly":0.185,"x1":1981.4,"y1":0.177,"x2":1981.4,"y2":0.080},
      {"label":"Versoix","lx":1986.0,"ly":0.160,"x1":1984.9,"y1":0.152,"x2":1984.9,"y2":0.100}
    ],
    "nb": [
      {"label":"Ennetbuehl","lx":1964.7,"ly":0.270,"x1":1963.7,"y1":0.258,"x2":1963.7,"y2":0.130},
      {"label":"Versoix","lx":1983.3,"ly":0.280,"x1":1983.3,"y1":0.262,"x2":1983.3,"y2":0.111},
      {"label":"Trient","lx":1988.8,"ly":0.215,"x1":1988.5,"y1":0.195,"x2":1988.5,"y2":0.148},
      {"label":"Kandersteg","lx":1992.3,"ly":0.460,"x1":1991.1,"y1":0.442,"x2":1993.0,"y2":0.409},
      {"label":"Vals","lx":1998.2,"ly":0.371,"x1":1998.2,"y1":0.353,"x2":1997.8,"y2":0.257}
    ],
    "nc": [
      {"label":"Versoix","lx":1964.9,"ly":0.185,"x1":1964.2,"y1":0.178,"x2":1964.2,"y2":0.068},
      {"label":"Ennetbuehl","lx":1977.1,"ly":0.157,"x1":1977.1,"y1":0.150,"x2":1977.1,"y2":0.068},
      {"label":"Merishausen","lx":1984.7,"ly":0.1435,"x1":1982.4,"y1":0.138,"x2":1982.4,"y2":0.105}
    ],
    "nd": [
      {"label":"Ennetbuehl","lx":1966.3,"ly":0.161,"x1":1965.9,"y1":0.155,"x2":1965.9,"y2":0.102},
      {"label":"Versoix","lx":1973.8,"ly":0.185,"x1":1974.0,"y1":0.175,"x2":1974.0,"y2":0.090},
      {"label":"Sargans II","lx":1984.6,"ly":0.192,"x1":1986.8,"y1":0.182,"x2":1986.8,"y2":0.167},
      {"label":"Trient","lx":1990.1,"ly":0.209,"x1":1990.1,"y1":0.202,"x2":1991.8,"y2":0.186},
      {"label":"Thusis","lx":1998.5,"ly":0.218,"x1":1998.7,"y1":0.209,"x2":1997.6,"y2":0.195}
    ]
  },
  "concat": [
    {
      "width": 426, "height": 326,
      "title": {"text": "Aesculus hippocastanum leaf unfolding", "font": "Liberation Serif", "fontSize": 18, "fontWeight": "bold", "color": "#111", "offset": 8, "frame": "group", "anchor": "middle"},
      "layer": [
        {
          "data": {"name": "la"},
          "mark": {"type": "line", "color": "#111", "strokeWidth": 2},
          "encoding": {
            "x": {"field": "x", "type": "quantitative", "title": "(a)", "scale": {"domain": [1956.5, 2000.6], "nice": false, "zero": false},
              "axis": {"values": [1960, 1970, 1980, 1990, 2000], "format": "d", "grid": false, "domain": false, "labelFont": "Liberation Serif", "labelFontSize": 16, "labelColor": "#222", "labelPadding": 4, "labelFlush": false, "tickSize": 6, "tickColor": "#111", "tickWidth": 1.5, "titleX": -66, "titleY": 21, "titleAlign": "left", "titleBaseline": "middle", "titleFont": "Liberation Serif", "titleFontSize": 17, "titleFontWeight": "normal", "titleColor": "#222"}},
            "y": {"field": "y", "type": "quantitative", "title": "Change point probability", "scale": {"domain": [-0.0124, 0.2124], "nice": false, "zero": false},
              "axis": {"values": [0, 0.025, 0.05, 0.075, 0.1, 0.125, 0.15, 0.175, 0.2], "tickCount": 40, "labelExpr": "indexof([0,2,4,6,8,16], round(datum.value*40)) >= 0 ? replace(format(datum.value, '.2f'), '.', ',') : ''", "labelOverlap": false, "grid": true, "gridColor": "#cfcfcf", "gridWidth": 2, "gridDash": [9, 6], "domain": false, "labelFont": "Liberation Serif", "labelFontSize": 16, "labelColor": "#222", "labelPadding": 3, "tickSize": 6, "tickColor": "#111", "tickWidth": 1.5, "tickOpacity": {"condition": {"test": "indexof([0,2,4,6,8,16], round(datum.value*40)) >= 0", "value": 1}, "value": 0}, "titleFont": "Liberation Sans", "titleFontSize": 21, "titleFontWeight": "normal", "titleColor": "#333", "titlePadding": 4}},
            "detail": {"field": "s"}
          }
        },
        {
          "data": {"name": "na"},
          "mark": {"type": "rule", "color": "#111", "strokeWidth": 1.5},
          "encoding": {"x": {"field": "x1", "type": "quantitative", "title": "(a)"}, "y": {"field": "y1", "type": "quantitative", "title": "Change point probability"}, "x2": {"field": "x2"}, "y2": {"field": "y2"}}
        },
        {
          "data": {"name": "na"},
          "transform": [{"calculate": "atan2(-((datum.x2-datum.x1)*9.7), -((datum.y2-datum.y1)*1449))*180/PI", "as": "ang"}],
          "mark": {"type": "point", "shape": "M-0.75,-2.8L0.75,-2.8L0,0Z", "filled": true, "color": "#111", "opacity": 1, "size": 64},
          "encoding": {"x": {"field": "x2", "type": "quantitative", "title": "(a)"}, "y": {"field": "y2", "type": "quantitative", "title": "Change point probability"}, "angle": {"field": "ang", "type": "quantitative", "scale": null}}
        },
        {
          "data": {"name": "na"},
          "mark": {"type": "text", "font": "Liberation Serif", "fontSize": 14, "color": "#222", "baseline": "middle", "align": "center"},
          "encoding": {"x": {"field": "lx", "type": "quantitative", "title": "(a)"}, "y": {"field": "ly", "type": "quantitative", "title": "Change point probability"}, "text": {"field": "label"}}
        }
      ]
    },
    {
      "width": 420, "height": 325,
      "title": {"text": "Aesculus hippocastanum autumn colouring", "font": "Liberation Serif", "fontSize": 18, "fontWeight": "bold", "color": "#111", "offset": 8, "frame": "group", "anchor": "middle"},
      "layer": [
        {
          "data": {"name": "lb"},
          "mark": {"type": "line", "color": "#111", "strokeWidth": 2},
          "encoding": {
            "x": {"field": "x", "type": "quantitative", "title": "(b)", "scale": {"domain": [1956.5, 2000.9], "nice": false, "zero": false},
              "axis": {"values": [1960, 1970, 1980, 1990, 2000], "format": "d", "grid": false, "domain": false, "labelFont": "Liberation Serif", "labelFontSize": 16, "labelColor": "#222", "labelPadding": 4, "labelFlush": false, "tickSize": 6, "tickColor": "#111", "tickWidth": 1.5, "titleX": -62, "titleY": 20, "titleAlign": "left", "titleBaseline": "middle", "titleFont": "Liberation Serif", "titleFontSize": 17, "titleFontWeight": "normal", "titleColor": "#222"}},
            "y": {"field": "y", "type": "quantitative", "title": "Change point probability", "scale": {"domain": [-0.0297, 0.478], "nice": false, "zero": false},
              "axis": {"values": [-0.025, 0, 0.025, 0.05, 0.075, 0.1, 0.125, 0.15, 0.175, 0.2, 0.3, 0.4], "tickCount": 40, "labelExpr": "indexof([0,2,4,6,8,16], round(datum.value*40)) >= 0 ? replace(format(datum.value, '.2f'), '.', ',') : ''", "labelOverlap": false, "grid": true, "gridColor": "#cfcfcf", "gridWidth": 2, "gridDash": [9, 6], "domain": false, "labelFont": "Liberation Serif", "labelFontSize": 16, "labelColor": "#222", "labelPadding": 3, "tickSize": 6, "tickColor": "#111", "tickWidth": 1.5, "tickOpacity": {"condition": {"test": "indexof([0,2,4,6,8,16], round(datum.value*40)) >= 0", "value": 1}, "value": 0}, "titleFont": "Liberation Sans", "titleFontSize": 21, "titleFontWeight": "normal", "titleColor": "#333", "titlePadding": 4}},
            "detail": {"field": "s"}
          }
        },
        {
          "data": {"name": "nb"},
          "mark": {"type": "rule", "color": "#111", "strokeWidth": 1.5},
          "encoding": {"x": {"field": "x1", "type": "quantitative", "title": "(b)"}, "y": {"field": "y1", "type": "quantitative", "title": "Change point probability"}, "x2": {"field": "x2"}, "y2": {"field": "y2"}}
        },
        {
          "data": {"name": "nb"},
          "transform": [{"calculate": "atan2(-((datum.x2-datum.x1)*9.46), -((datum.y2-datum.y1)*640))*180/PI", "as": "ang"}],
          "mark": {"type": "point", "shape": "M-0.75,-2.8L0.75,-2.8L0,0Z", "filled": true, "color": "#111", "opacity": 1, "size": 64},
          "encoding": {"x": {"field": "x2", "type": "quantitative", "title": "(b)"}, "y": {"field": "y2", "type": "quantitative", "title": "Change point probability"}, "angle": {"field": "ang", "type": "quantitative", "scale": null}}
        },
        {
          "data": {"name": "nb"},
          "mark": {"type": "text", "font": "Liberation Serif", "fontSize": 14, "color": "#222", "baseline": "middle", "align": "center"},
          "encoding": {"x": {"field": "lx", "type": "quantitative", "title": "(b)"}, "y": {"field": "ly", "type": "quantitative", "title": "Change point probability"}, "text": {"field": "label"}}
        }
      ]
    },
    {
      "width": 423, "height": 325,
      "title": {"text": "Fagus sylvatica leaf unfolding", "font": "Liberation Serif", "fontSize": 18, "fontWeight": "bold", "color": "#111", "offset": 8, "frame": "group", "anchor": "middle"},
      "layer": [
        {
          "data": {"name": "lc"},
          "mark": {"type": "line", "color": "#111", "strokeWidth": 2},
          "encoding": {
            "x": {"field": "x", "type": "quantitative", "title": "(c)", "scale": {"domain": [1956.5, 2000.6], "nice": false, "zero": false},
              "axis": {"values": [1960, 1970, 1980, 1990, 2000], "format": "d", "grid": false, "domain": false, "labelFont": "Liberation Serif", "labelFontSize": 16, "labelColor": "#222", "labelPadding": 4, "labelFlush": false, "tickSize": 6, "tickColor": "#111", "tickWidth": 1.5, "titleX": -66, "titleY": 12, "titleAlign": "left", "titleBaseline": "middle", "titleFont": "Liberation Serif", "titleFontSize": 17, "titleFontWeight": "normal", "titleColor": "#222"}},
            "y": {"field": "y", "type": "quantitative", "title": "Change point probability", "scale": {"domain": [-0.0111, 0.2138], "nice": false, "zero": false},
              "axis": {"values": [0, 0.025, 0.05, 0.075, 0.1, 0.125, 0.15, 0.175, 0.2], "tickCount": 40, "labelExpr": "indexof([0,2,4,6,8,16], round(datum.value*40)) >= 0 ? replace(format(datum.value, '.2f'), '.', ',') : ''", "labelOverlap": false, "grid": true, "gridColor": "#cfcfcf", "gridWidth": 2, "gridDash": [9, 6], "domain": false, "labelFont": "Liberation Serif", "labelFontSize": 16, "labelColor": "#222", "labelPadding": 3, "tickSize": 6, "tickColor": "#111", "tickWidth": 1.5, "tickOpacity": {"condition": {"test": "indexof([0,2,4,6,8,16], round(datum.value*40)) >= 0", "value": 1}, "value": 0}, "titleFont": "Liberation Sans", "titleFontSize": 21, "titleFontWeight": "normal", "titleColor": "#333", "titlePadding": 4}},
            "detail": {"field": "s"}
          }
        },
        {
          "data": {"name": "nc"},
          "mark": {"type": "rule", "color": "#111", "strokeWidth": 1.5},
          "encoding": {"x": {"field": "x1", "type": "quantitative", "title": "(c)"}, "y": {"field": "y1", "type": "quantitative", "title": "Change point probability"}, "x2": {"field": "x2"}, "y2": {"field": "y2"}}
        },
        {
          "data": {"name": "nc"},
          "transform": [{"calculate": "atan2(-((datum.x2-datum.x1)*9.6), -((datum.y2-datum.y1)*1445))*180/PI", "as": "ang"}],
          "mark": {"type": "point", "shape": "M-0.75,-2.8L0.75,-2.8L0,0Z", "filled": true, "color": "#111", "opacity": 1, "size": 64},
          "encoding": {"x": {"field": "x2", "type": "quantitative", "title": "(c)"}, "y": {"field": "y2", "type": "quantitative", "title": "Change point probability"}, "angle": {"field": "ang", "type": "quantitative", "scale": null}}
        },
        {
          "data": {"name": "nc"},
          "mark": {"type": "text", "font": "Liberation Serif", "fontSize": 14, "color": "#222", "baseline": "middle", "align": "center"},
          "encoding": {"x": {"field": "lx", "type": "quantitative", "title": "(c)"}, "y": {"field": "ly", "type": "quantitative", "title": "Change point probability"}, "text": {"field": "label"}}
        }
      ]
    },
    {
      "width": 418, "height": 326,
      "title": {"text": "Fagus sylvatica autumn colouring", "font": "Liberation Serif", "fontSize": 18, "fontWeight": "bold", "color": "#111", "offset": 8, "frame": "group", "anchor": "middle"},
      "layer": [
        {
          "data": {"name": "ld"},
          "mark": {"type": "line", "color": "#111", "strokeWidth": 2},
          "encoding": {
            "x": {"field": "x", "type": "quantitative", "title": "(d)", "scale": {"domain": [1956.5, 2000.8], "nice": false, "zero": false},
              "axis": {"values": [1960, 1970, 1980, 1990, 2000], "format": "d", "grid": false, "domain": false, "labelFont": "Liberation Serif", "labelFontSize": 16, "labelColor": "#222", "labelPadding": 4, "labelFlush": false, "tickSize": 6, "tickColor": "#111", "tickWidth": 1.5, "titleX": -66, "titleY": 19, "titleAlign": "left", "titleBaseline": "middle", "titleFont": "Liberation Serif", "titleFontSize": 17, "titleFontWeight": "normal", "titleColor": "#222"}},
            "y": {"field": "y", "type": "quantitative", "title": "Change point probability", "scale": {"domain": [-0.0119, 0.2313], "nice": false, "zero": false},
              "axis": {"values": [0, 0.025, 0.05, 0.075, 0.1, 0.125, 0.15, 0.175, 0.2, 0.225], "tickCount": 40, "labelExpr": "indexof([0,2,4,6,8,16], round(datum.value*40)) >= 0 ? replace(format(datum.value, '.2f'), '.', ',') : ''", "labelOverlap": false, "grid": true, "gridColor": "#cfcfcf", "gridWidth": 2, "gridDash": [9, 6], "domain": false, "labelFont": "Liberation Serif", "labelFontSize": 16, "labelColor": "#222", "labelPadding": 3, "tickSize": 6, "tickColor": "#111", "tickWidth": 1.5, "tickOpacity": {"condition": {"test": "indexof([0,2,4,6,8,16], round(datum.value*40)) >= 0", "value": 1}, "value": 0}, "titleFont": "Liberation Sans", "titleFontSize": 21, "titleFontWeight": "normal", "titleColor": "#333", "titlePadding": 4}},
            "detail": {"field": "s"}
          }
        },
        {
          "data": {"name": "nd"},
          "mark": {"type": "rule", "color": "#111", "strokeWidth": 1.5},
          "encoding": {"x": {"field": "x1", "type": "quantitative", "title": "(d)"}, "y": {"field": "y1", "type": "quantitative", "title": "Change point probability"}, "x2": {"field": "x2"}, "y2": {"field": "y2"}}
        },
        {
          "data": {"name": "nd"},
          "transform": [{"calculate": "atan2(-((datum.x2-datum.x1)*9.45), -((datum.y2-datum.y1)*1340))*180/PI", "as": "ang"}],
          "mark": {"type": "point", "shape": "M-0.75,-2.8L0.75,-2.8L0,0Z", "filled": true, "color": "#111", "opacity": 1, "size": 64},
          "encoding": {"x": {"field": "x2", "type": "quantitative", "title": "(d)"}, "y": {"field": "y2", "type": "quantitative", "title": "Change point probability"}, "angle": {"field": "ang", "type": "quantitative", "scale": null}}
        },
        {
          "data": {"name": "nd"},
          "mark": {"type": "text", "font": "Liberation Serif", "fontSize": 14, "color": "#222", "baseline": "middle", "align": "center"},
          "encoding": {"x": {"field": "lx", "type": "quantitative", "title": "(d)"}, "y": {"field": "ly", "type": "quantitative", "title": "Change point probability"}, "text": {"field": "label"}}
        }
      ]
    }
  ],
  "columns": 2,
  "spacing": {"row": 87, "column": 192},
  "bounds": "flush"
}
